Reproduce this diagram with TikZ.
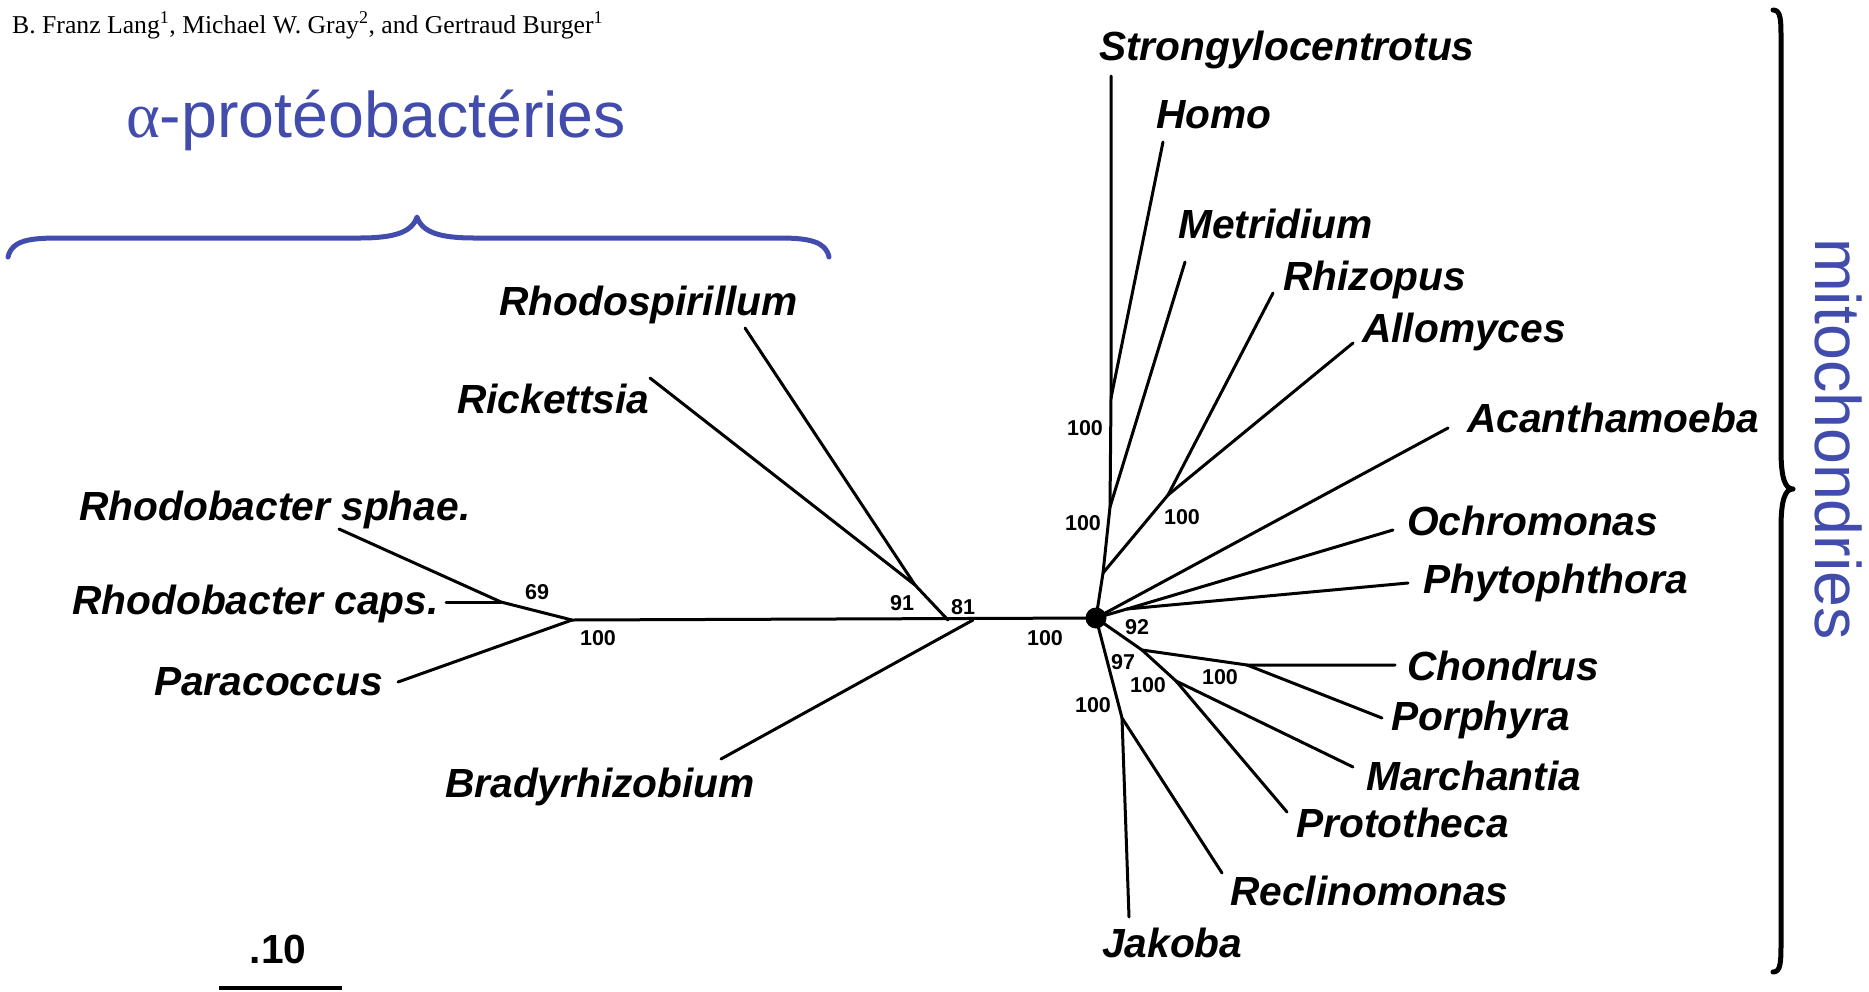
\documentclass[tikz,border=0pt]{standalone}
\usepackage{fontspec}
\setmainfont{Liberation Serif}
\setsansfont{Liberation Sans}
\definecolor{cladeblue}{RGB}{66,76,172}

\begin{document}
\begin{tikzpicture}[x=1pt,y=-1pt,
  branch/.style={line width=3pt, line cap=round, line join=round},
  taxon/.style={font=\fontsize{40.7}{40.7}\selectfont\sffamily\bfseries\itshape, anchor=base west, inner sep=0pt},
  boot/.style={font=\fontsize{21.5}{21.5}\selectfont\sffamily\bfseries, inner sep=0pt},
  grouplabel/.style={font=\fontsize{64.5}{64.5}\selectfont\sffamily, text=cladeblue, inner sep=0pt},
  bracestroke/.style={line width=5pt, line cap=round, line join=round},
]
\useasboundingbox (0,0) rectangle (1869,991);

% author line
\node[anchor=base west, inner sep=0pt, font=\fontsize{25.7}{25.7}\selectfont] (authors) at (12,33)
  {B. Franz Lang\textsuperscript{1}, Michael W. Gray\textsuperscript{2}, and Gertraud Burger\textsuperscript{1}};

% group titles
\node[grouplabel, anchor=base west] (alpha) at (126,137) {{\rmfamily α}-protéobactéries};
\node[grouplabel, rotate=-90, anchor=base west] (mito) at (1815,238) {mitochondries};

% braces
\draw[bracestroke, cladeblue] (8,257) .. controls (12,240) and (30,238) .. (60,238) -- (360,238)
  .. controls (395,238) and (412,232) .. (417,217)
  .. controls (422,232) and (439,238) .. (474,238) -- (780,238)
  .. controls (810,238) and (826,242) .. (829,257);
\draw[bracestroke, black] (1773,10) .. controls (1781,10) and (1781,20) .. (1781,40) -- (1781,450)
  .. controls (1781,478) and (1785,489) .. (1793,489)
  .. controls (1785,489) and (1781,500) .. (1781,528) -- (1781,940)
  .. controls (1781,962) and (1781,972) .. (1773,972);

% ---- alpha-proteobacteria: internal nodes and tips
\coordinate (A) at (572,620);
\coordinate (B) at (501,602);
\coordinate (C) at (915,585);
\coordinate (D) at (948,620);
\coordinate (E) at (973,620);
\coordinate (O) at (1096,618);
\coordinate (tSph) at (339,529);
\coordinate (tCap) at (446,602);
\coordinate (tPar) at (398,682);
\coordinate (tRick) at (650,378);
\coordinate (tRsp) at (745,328);
\coordinate (tBrady) at (721,759);

% ---- mitochondria: internal nodes and tips
\coordinate (G) at (1103,573);
\coordinate (H) at (1110,507);
\coordinate (S1) at (1111,398);
\coordinate (R) at (1168,495);
\coordinate (P) at (1127,609);
\coordinate (M) at (1142,650);
\coordinate (L) at (1247,665);
\coordinate (K) at (1176,681);
\coordinate (J) at (1122,718);
\coordinate (tStrong) at (1111,76);
\coordinate (tHomo) at (1163,142);
\coordinate (tMetr) at (1185,262);
\coordinate (tRhiz) at (1273,293);
\coordinate (tAllo) at (1353,343);
\coordinate (tAcan) at (1448,428);
\coordinate (tOchr) at (1393,530);
\coordinate (tPhyt) at (1408,583);
\coordinate (tChon) at (1395,665);
\coordinate (tPorp) at (1382,718);
\coordinate (tMarch) at (1353,767);
\coordinate (tProto) at (1287,812);
\coordinate (tRecl) at (1222,873);
\coordinate (tJak) at (1129,917);

% branches
\draw[branch] (A) -- (O);
\draw[branch] (A) -- (B) -- (tSph);
\draw[branch] (B) -- (tCap);
\draw[branch] (A) -- (tPar);
\draw[branch] (D) -- (C) -- (tRick);
\draw[branch] (C) -- (tRsp);
\draw[branch] (E) -- (tBrady);

\draw[branch] (O) -- (G) -- (H) -- (S1) -- (tStrong);
\draw[branch] (S1) -- (tHomo);
\draw[branch] (H) -- (tMetr);
\draw[branch] (G) -- (R) -- (tRhiz);
\draw[branch] (R) -- (tAllo);
\draw[branch] (O) -- (tAcan);
\draw[branch] (O) -- (P) -- (tOchr);
\draw[branch] (P) -- (tPhyt);
\draw[branch] (O) -- (M) -- (L) -- (tChon);
\draw[branch] (L) -- (tPorp);
\draw[branch] (M) -- (K) -- (tMarch);
\draw[branch] (K) -- (tProto);
\draw[branch] (O) -- (J) -- (tRecl);
\draw[branch] (J) -- (tJak);

\fill (O) circle (10.5);

% taxon names
\node[taxon] (nStrong) at (1099,60) {Strongylocentrotus};
\node[taxon] (nHomo) at (1156,128) {Homo};
\node[taxon] (nMetr) at (1178,238) {Metridium};
\node[taxon] (nRhiz) at (1283,290) {Rhizopus};
\node[taxon] (nAllo) at (1362,342) {Allomyces};
\node[taxon] (nAcan) at (1467,432) {Acanthamoeba};
\node[taxon] (nOchr) at (1407,535) {Ochromonas};
\node[taxon] (nPhyt) at (1423,593) {Phytophthora};
\node[taxon] (nChon) at (1407,680) {Chondrus};
\node[taxon] (nPorp) at (1391,730) {Porphyra};
\node[taxon] (nMarch) at (1366,790) {Marchantia};
\node[taxon] (nProto) at (1296,837) {Prototheca};
\node[taxon] (nRecl) at (1230,905) {Reclinomonas};
\node[taxon] (nJak) at (1102,957) {Jakoba};
\node[taxon] (nRsp) at (499,315) {Rhodospirillum};
\node[taxon] (nRick) at (457,413) {Rickettsia};
\node[taxon] (nSph) at (79,520) {Rhodobacter sphae.};
\node[taxon] (nCap) at (72,614) {Rhodobacter caps.};
\node[taxon] (nPar) at (154,695) {Paracoccus};
\node[taxon] (nBrady) at (445,797) {Bradyrhizobium};

% bootstrap values
\node[boot] (b69) at (537,592) {69};
\node[boot] (bA) at (598,638) {100};
\node[boot] (b91) at (902,603) {91};
\node[boot] (b81) at (963,607) {81};
\node[boot] (bO) at (1045,638) {100};
\node[boot] (bS1) at (1085,428) {100};
\node[boot] (bH) at (1083,523) {100};
\node[boot] (bR) at (1182,517) {100};
\node[boot] (b92) at (1137,627) {92};
\node[boot] (b97) at (1123,662) {97};
\node[boot] (bK) at (1148,685) {100};
\node[boot] (bJ) at (1093,705) {100};
\node[boot] (bL) at (1220,677) {100};

% scale bar
\node[font=\fontsize{40.7}{40.7}\selectfont\sffamily\bfseries, anchor=base, inner sep=0pt] (scalelabel) at (278,963) {.10};
\coordinate (barL) at (219,988);
\coordinate (barR) at (342,988);
\draw[line width=4.5pt] (barL) -- (barR);
\end{tikzpicture}
\end{document}
